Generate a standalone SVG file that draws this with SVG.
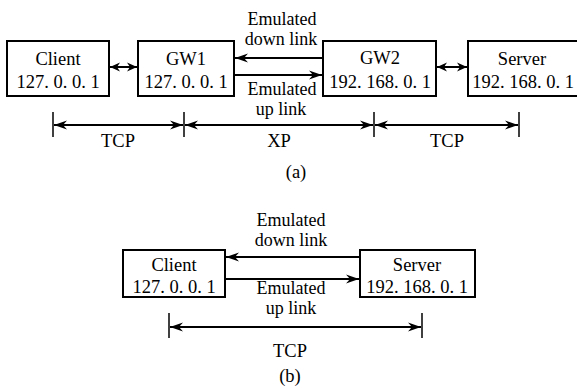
<svg xmlns="http://www.w3.org/2000/svg" width="577" height="388" viewBox="0 0 577 388">
<style>
.box{fill:#fff;stroke:#000;stroke-width:2}
.ln{fill:none;stroke:#000;stroke-width:2}
.tk{fill:none;stroke:#000;stroke-width:1.5}
</style>
<defs>
<marker id="ah" markerUnits="userSpaceOnUse" viewBox="-14 -6 15 12" markerWidth="15" markerHeight="12" refX="0" refY="0" orient="auto-start-reverse">
<path d="M0,0 L-13,-4.5 L-9,0 L-13,4.5 Z" fill="#000"/>
</marker>
<marker id="as" markerUnits="userSpaceOnUse" viewBox="-12 -6 13 12" markerWidth="13" markerHeight="12" refX="0" refY="0" orient="auto-start-reverse">
<path d="M0,0 L-10,-4.5 L-7,0 L-10,4.5 Z" fill="#000"/>
</marker>
</defs>
<g font-family="Liberation Serif" font-size="18.5" text-anchor="middle" fill="#000">
<g id="client-a"><rect class="box" x="7" y="41" width="102" height="55"/><text x="58" y="65">Client</text><text x="58" y="88">127. 0. 0. 1</text></g>
<g id="gw1"><rect class="box" x="138" y="41" width="96" height="55"/><text x="186" y="65">GW1</text><text x="186" y="88">127. 0. 0. 1</text></g>
<g id="gw2"><rect class="box" x="323" y="41" width="113" height="55"/><text x="380" y="64">GW2</text><text x="380" y="88">192. 168. 0. 1</text></g>
<g id="server-a"><rect class="box" x="468" y="41" width="120" height="55"/><text x="522" y="65">Server</text><text x="523" y="88">192. 168. 0. 1</text></g>
<g id="client-b"><rect class="box" x="123" y="250" width="102" height="47"/><text x="174" y="271">Client</text><text x="174" y="293">127. 0. 0. 1</text></g>
<g id="server-b"><rect class="box" x="360" y="250" width="115" height="47"/><text x="417" y="271">Server</text><text x="417" y="293">192. 168. 0. 1</text></g>
</g>
<g id="connectors">
<line class="ln" x1="110" y1="67" x2="137" y2="67" marker-start="url(#as)" marker-end="url(#as)"/>
<line class="ln" x1="437" y1="67" x2="467" y2="67" marker-start="url(#as)" marker-end="url(#as)"/>
<line class="ln" x1="323" y1="58" x2="235" y2="58" marker-end="url(#ah)"/>
<line class="ln" x1="234" y1="75" x2="322" y2="75" marker-end="url(#ah)"/>
<line class="ln" x1="360" y1="257" x2="226" y2="257" marker-end="url(#ah)"/>
<line class="ln" x1="225" y1="279" x2="359" y2="279" marker-end="url(#ah)"/>
<line class="tk" x1="53" y1="112" x2="53" y2="137"/>
<line class="tk" x1="184" y1="112" x2="184" y2="137"/>
<line class="tk" x1="374" y1="112" x2="374" y2="137"/>
<line class="tk" x1="519" y1="112" x2="519" y2="137"/>
<line class="ln" x1="54" y1="125" x2="183" y2="125" marker-start="url(#ah)" marker-end="url(#ah)"/>
<line class="ln" x1="185" y1="125" x2="373" y2="125" marker-start="url(#ah)" marker-end="url(#ah)"/>
<line class="ln" x1="375" y1="125" x2="518" y2="125" marker-start="url(#ah)" marker-end="url(#ah)"/>
<line class="tk" x1="169" y1="313" x2="169" y2="338"/>
<line class="tk" x1="422" y1="313" x2="422" y2="338"/>
<line class="ln" x1="170" y1="327" x2="421" y2="327" marker-start="url(#ah)" marker-end="url(#ah)"/>
</g>
<g font-family="Liberation Serif" font-size="18" text-anchor="middle" fill="#000">
<text x="282" y="25">Emulated</text>
<text x="281" y="45">down link</text>
<text x="282" y="95">Emulated</text>
<text x="281" y="115">up link</text>
<text x="118" y="147" font-size="18.5">TCP</text>
<text x="279" y="147" font-size="18.5">XP</text>
<text x="447" y="147" font-size="18.5">TCP</text>
<text x="296" y="178" font-size="18.5">(a)</text>
<text x="291" y="226">Emulated</text>
<text x="291" y="246">down link</text>
<text x="291" y="294">Emulated</text>
<text x="291" y="314">up link</text>
<text x="290" y="357" font-size="18.5">TCP</text>
<text x="290" y="382" font-size="18.5">(b)</text>
</g>
</svg>
